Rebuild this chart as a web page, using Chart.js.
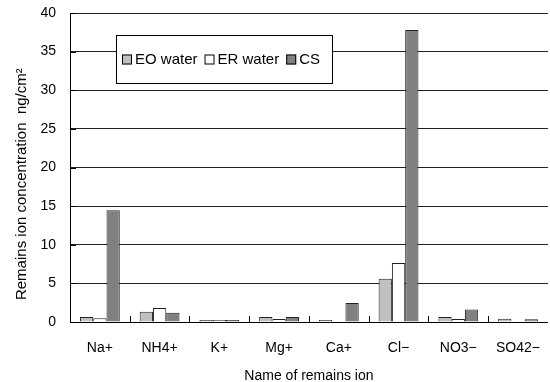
<!DOCTYPE html>
<html>
<head>
<meta charset="utf-8">
<script src="https://cdn.jsdelivr.net/npm/chart.js@4"></script>
<style>
  html, body { margin: 0; padding: 0; background: #fff; }
  #wrap { width: 550px; height: 382px; }
</style>
</head>
<body>
<div id="wrap"><canvas id="myChart" width="550" height="382"></canvas></div>
<script>
const ions = ['Na+', 'NH4+', 'K+', 'Mg+', 'Ca+', 'Cl\u2212', 'NO3\u2212', 'SO42\u2212'];
const eoWater = [0.65, 1.33, 0.25, 0.65, 0.25, 5.6, 0.65, 0.43];
const erWater = [0.47, 1.81, 0.25, 0.39, 0, 7.65, 0.4, 0];
const cs = [14.45, 1.2, 0.25, 0.65, 2.46, 37.8, 1.63, 0.34];
const yTicks = [0, 5, 10, 15, 20, 25, 30, 35, 40];

const FONT = 'Liberation Sans, Arial, sans-serif';

// legend box drawn inside the plot, plus the short inward tick marks
const insideBits = {
    id: 'insideBits',
    afterDraw(chart) {
        const c = chart.ctx;
        const area = chart.chartArea;
        const xs = chart.scales.x;
        const ys = chart.scales.y;
        c.save();
        c.strokeStyle = '#000';
        c.lineWidth = 1;
        // x ticks between categories
        for (let i = 1; i < ions.length; i++) {
            const px = Math.round((xs.getPixelForValue(i - 1) + xs.getPixelForValue(i)) / 2) + 0.5;
            c.beginPath();
            c.moveTo(px, area.bottom);
            c.lineTo(px, area.bottom - 6);
            c.stroke();
        }
        // y ticks
        yTicks.forEach(v => {
            const py = Math.round(ys.getPixelForValue(v)) + 0.5;
            c.beginPath();
            c.moveTo(area.left, py);
            c.lineTo(area.left + 6, py);
            c.stroke();
        });

        // legend
        const lx = area.left + 46, ly = area.top + 22, lw = 216, lh = 48;
        c.fillStyle = '#fff';
        c.fillRect(lx, ly, lw, lh);
        c.strokeStyle = '#000';
        c.strokeRect(lx + 0.5, ly + 0.5, lw, lh);
        c.font = '15px ' + FONT;
        c.textBaseline = 'middle';
        let x = lx + 6;
        const cy = ly + lh / 2 + 0.5;
        chart.data.datasets.forEach(ds => {
            c.fillStyle = ds.backgroundColor;
            c.fillRect(x, cy - 5, 10, 10);
            c.strokeStyle = '#000';
            c.strokeRect(x + 0.5, cy - 4.5, 9, 9);
            c.fillStyle = '#000';
            c.fillText(ds.label, x + 13, cy);
            x += 13 + c.measureText(ds.label).width + 7;
        });
        c.restore();
    }
};

new Chart(document.getElementById('myChart').getContext('2d'), {
    type: 'bar',
    data: {
        labels: ions,
        datasets: [
            { label: 'EO water', data: eoWater, backgroundColor: '#c0c0c0', borderColor: '#222', borderWidth: 1 },
            { label: 'ER water', data: erWater, backgroundColor: '#ffffff', borderColor: '#222', borderWidth: 1 },
            { label: 'CS', data: cs, backgroundColor: '#808080', borderColor: '#222', borderWidth: 1 }
        ]
    },
    options: {
        responsive: false,
        animation: false,
        layout: { padding: { top: 13, right: 0, bottom: 0, left: 0 } },
        datasets: { bar: { categoryPercentage: 0.667, barPercentage: 1 } },
        plugins: {
            legend: { display: false },
            tooltip: { enabled: false }
        },
        scales: {
            x: {
                grid: { display: false },
                border: { color: '#000', width: 1 },
                ticks: { color: '#000', font: { family: FONT, size: 14 }, padding: 10, maxRotation: 0 },
                title: {
                    display: true,
                    text: 'Name of remains ion',
                    color: '#000',
                    font: { family: FONT, size: 14, lineHeight: 0.8 },
                    padding: { top: 0, bottom: 0 }
                },
                afterFit: s => { s.height = 60; }
            },
            y: {
                min: 0,
                max: 40,
                afterBuildTicks: s => { s.ticks = yTicks.map(v => ({ value: v })); },
                grid: { color: '#222', lineWidth: 1, drawTicks: true, tickLength: 14, tickColor: 'rgba(0,0,0,0)' },
                border: { color: '#000', width: 1 },
                ticks: { color: '#000', font: { family: FONT, size: 14 }, padding: 0 },
                title: {
                    display: true,
                    text: 'Remains ion concentration  ng/cm\u00b2        ',
                    color: '#000',
                    font: { family: FONT, size: 15 },
                    padding: { top: 13, bottom: 0 }
                },
                afterFit: s => { s.width = 70; }
            }
        }
    },
    plugins: [insideBits]
});
</script>
</body>
</html>
